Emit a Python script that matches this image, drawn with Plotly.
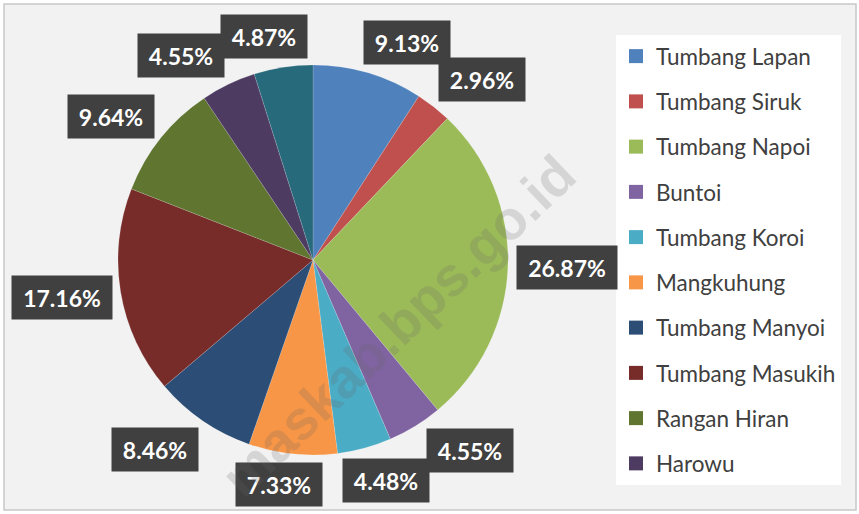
import math
import plotly.graph_objects as go

# ---------------- data ----------------
labels = ["Tumbang Lapan", "Tumbang Siruk", "Tumbang Napoi", "Buntoi", "Tumbang Koroi",
          "Mangkuhung", "Tumbang Manyoi", "Tumbang Masukih", "Rangan Hiran", "Harowu",
          "Tumbang Marikoi"]
values = [9.13, 2.96, 26.87, 4.55, 4.48, 7.33, 8.46, 17.16, 9.64, 4.55, 4.87]
colors = ["#4F81BD", "#C0504D", "#9BBB59", "#8064A2", "#4BACC6", "#F79646",
          "#2C4D75", "#772C2A", "#5F7530", "#4D3B62", "#276A7C"]
legend_count = 10  # the original legend box only shows the first ten entries

# ---------------- layout constants ----------------
W, H = 859, 514
CX, CY, R = 313, 260, 195
ANCHOR_R = R + 10
BOX_H = 41

fig = go.Figure()
fig.add_trace(go.Pie(
    labels=labels, values=values, sort=False, direction="clockwise", rotation=0,
    marker=dict(colors=colors, line=dict(color="rgba(255,255,255,0.25)", width=0.6)),
    textinfo="none", showlegend=False, hoverinfo="label+percent",
    domain=dict(x=[(CX - R) / W, (CX + R) / W], y=[1 - (CY + R) / H, 1 - (CY - R) / H]),
))

for lab, col in zip(labels[:legend_count], colors[:legend_count]):
    fig.add_trace(go.Scatter(x=[None], y=[None], mode="markers", name=lab, legendgroup=lab,
                             marker=dict(symbol="square", size=14, color=col),
                             hoverinfo="skip", showlegend=True))

# ---------------- data labels (boxes), placed from slice mid-angles ----------------
total = sum(values)
texts = [f"{v / total * 100:.2f}%" for v in values]
widths = [14 * len(t) + 14 for t in texts]
angles = []
cum = 0.0
for v in values:
    angles.append((cum + v / 2) / total * 360.0)
    cum += v


def center(theta, w, h):
    """Outside-end label: anchor just outside the rim, box hung off the anchor."""
    t = math.radians(theta)
    s, c = math.sin(t), math.cos(t)
    ax, ay = CX + ANCHOR_R * s, CY - ANCHOR_R * c
    ox = math.copysign(w / 2 * min(1.0, 3.0 * abs(s)), s)
    oy = -math.copysign(h / 2 * min(1.0, 1.2 * abs(c)), c)
    return ax + ox, ay + oy


n = len(values)
for _ in range(3000):
    moved = False
    for i in range(n):
        j = (i + 1) % n
        x1, y1 = center(angles[i], widths[i], BOX_H)
        x2, y2 = center(angles[j], widths[j], BOX_H)
        if abs(x1 - x2) < (widths[i] + widths[j]) / 2 - 2 and abs(y1 - y2) < BOX_H - 6:
            angles[i] -= 0.25
            angles[j] += 0.25
            moved = True
    if not moved:
        break

annotations = []
for t, a, w in zip(texts, angles, widths):
    x, y = center(a, w, BOX_H)
    annotations.append(dict(
        x=x / W, y=1 - y / H, xref="paper", yref="paper", text=f"<b>{t}</b>",
        showarrow=False, xanchor="center", yanchor="middle", width=w, height=BOX_H,
        bgcolor="#404040", font=dict(family="Lato", size=23, color="white"),
    ))

# faint source watermark (visible part only)
annotations.append(dict(
    x=398 / W, y=1 - 326 / H, xref="paper", yref="paper", text="<b>maskab.bps.go.id</b>",
    showarrow=False, textangle=-43.7, xanchor="center", yanchor="middle",
    font=dict(family="Liberation Sans", size=55, color="rgba(100,100,100,0.2)"),
))

fig.update_layout(
    width=W, height=H, margin=dict(l=0, r=0, t=0, b=0),
    paper_bgcolor="white", plot_bgcolor="rgba(0,0,0,0)",
    xaxis=dict(visible=False), yaxis=dict(visible=False),
    annotations=annotations,
    shapes=[dict(type="rect", xref="paper", yref="paper", x0=4 / W, x1=856 / W,
                 y0=1 - 510 / H, y1=1 - 4 / H, line=dict(color="#C8C8C8", width=1.5),
                 fillcolor="#F2F2F2", layer="below")],
    legend=dict(x=616 / W, y=1 - 35 / H, xanchor="left", yanchor="top", bgcolor="white",
                font=dict(family="Lato", size=22.5, color="#404040"), tracegroupgap=13,
                itemclick=False, itemdoubleclick=False),
    showlegend=True,
)

fig.write_html("out.html", config={"displayModeBar": False},
               post_script="document.body.style.margin='0';")
